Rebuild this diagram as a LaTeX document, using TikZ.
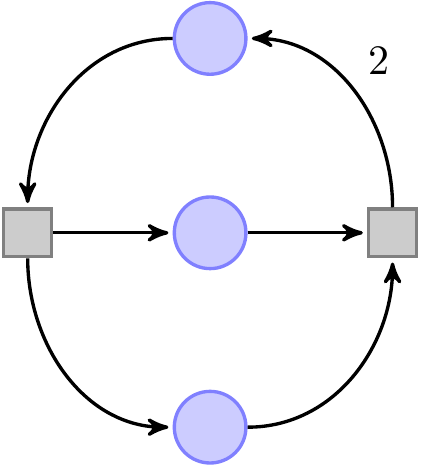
\documentclass[tikz,border=0pt]{standalone}
\usepackage{tikz}
\usetikzlibrary{positioning,arrows}

\begin{document}
\begin{tikzpicture}[shorten >=1pt,>=stealth',node distance=1cm,
                    thick,place/.style={circle,draw=blue!50,fill=blue!20,minimum size=6mm},
                    transition/.style={rectangle,draw=black!50,fill=black!20,minimum size=4mm}]
                    \useasboundingbox (-1.76,-1.97) rectangle (1.76,1.95);
                    	\node[place] (p2) at (0,0) {};
                    	\node[place] (p1) [above=of p2] {};
                    	\node[place] (p3) [below=of p2] {};
                    	\node[transition] (t1) [left=of p2] {};
                    	\node[transition] (t2) [right=of p2] {};

                    \path[->]
             		(p1)	edge [out=180,in=90] (t1)
             		(t1)	edge (p2)
                    		edge [out=-90,in=180] (p3)
                 	(p2)	edge (t2)
                 	(p3)	edge [out=0,in=-90] (t2)
                 	(t2)	edge [out=90,in=0] node [above right] {2} (p1);

				\end{tikzpicture}
\end{document}
